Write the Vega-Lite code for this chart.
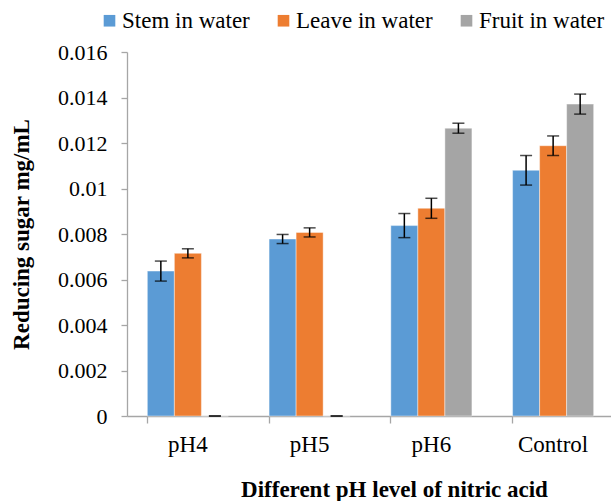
{
  "$schema": "https://vega.github.io/schema/vega-lite/v6.json",
  "width": 487,
  "height": 364,
  "autosize": {"type": "none"},
  "padding": {"left": 127, "top": 52, "right": -3, "bottom": 85},
  "background": "white",
  "config": {
    "view": {"stroke": null},
    "font": "Liberation Serif"
  },
  "data": {
    "values": [
      {"ph": "pH4", "series": "Stem in water", "value": 0.00637, "lo": 0.00593, "hi": 0.00681},
      {"ph": "pH4", "series": "Leave in water", "value": 0.00715, "lo": 0.00695, "hi": 0.00735},
      {"ph": "pH4", "series": "Fruit in water", "value": 0.0, "lo": 0.0, "hi": 0.0},
      {"ph": "pH5", "series": "Stem in water", "value": 0.00778, "lo": 0.00758, "hi": 0.00798},
      {"ph": "pH5", "series": "Leave in water", "value": 0.00807, "lo": 0.00787, "hi": 0.00827},
      {"ph": "pH5", "series": "Fruit in water", "value": 0.0, "lo": 0.0, "hi": 0.0},
      {"ph": "pH6", "series": "Stem in water", "value": 0.00837, "lo": 0.00784, "hi": 0.0089},
      {"ph": "pH6", "series": "Leave in water", "value": 0.00913, "lo": 0.00869, "hi": 0.00957},
      {"ph": "pH6", "series": "Fruit in water", "value": 0.01265, "lo": 0.01243, "hi": 0.01287},
      {"ph": "Control", "series": "Stem in water", "value": 0.0108, "lo": 0.01015, "hi": 0.01145},
      {"ph": "Control", "series": "Leave in water", "value": 0.01188, "lo": 0.01145, "hi": 0.01231},
      {"ph": "Control", "series": "Fruit in water", "value": 0.01371, "lo": 0.01327, "hi": 0.01415}
    ]
  },
  "encoding": {
    "x": {
      "field": "ph", "type": "nominal", "sort": ["pH4", "pH5", "pH6", "Control"],
      "scale": {"paddingInner": 0.334, "paddingOuter": 0.167},
      "axis": {
        "title": "Different pH level of nitric acid", "titleFont": "Liberation Serif", "titleFontSize": 23, "titleFontWeight": "bold",
        "titleColor": "black", "titlePadding": 22, "titleX": 267,
        "labelFont": "Liberation Serif", "labelColor": "black", "labelFontSize": 23, "labelAngle": 0, "labelPadding": 10,
        "domainColor": "#a6a6a6", "domainWidth": 1.3, "tickColor": "#a6a6a6", "tickWidth": 1.3, "tickSize": 7, "bandPosition": 0
      }
    },
    "xOffset": {"field": "series", "type": "nominal", "sort": ["Stem in water", "Leave in water", "Fruit in water"]}
  },
  "layer": [
    {
      "mark": {"type": "bar", "stroke": "white", "strokeWidth": 0.7, "strokeOpacity": 0.6},
      "encoding": {
        "y": {
          "field": "value", "type": "quantitative",
          "scale": {"domain": [0, 0.016]},
          "axis": {
            "title": "Reducing sugar mg/mL", "titleFont": "Liberation Serif", "titleFontSize": 23, "titleFontWeight": "bold",
            "titleColor": "black", "titlePadding": 24,
            "labelFont": "Liberation Serif", "labelColor": "black", "labelFontSize": 22,
            "values": [0, 0.002, 0.004, 0.006, 0.008, 0.01, 0.012, 0.014, 0.016],
            "format": "~g", "grid": false, "labelPadding": 14,
            "domainColor": "#a6a6a6", "domainWidth": 1.3, "tickColor": "#a6a6a6", "tickWidth": 1.3, "tickSize": 6
          }
        },
        "color": {
          "field": "series", "type": "nominal",
          "sort": ["Stem in water", "Leave in water", "Fruit in water"],
          "scale": {"domain": ["Stem in water", "Leave in water", "Fruit in water"], "range": ["#5b9bd5", "#ed7d31", "#a5a5a5"]},
          "legend": {
            "title": null, "orient": "none", "direction": "horizontal", "legendX": -29, "legendY": -43,
            "symbolType": "square", "symbolSize": 135, "symbolStrokeWidth": 0,
            "labelFont": "Liberation Serif", "labelColor": "black", "labelFontSize": 23,
            "columnPadding": 22, "labelOffset": 1
          }
        }
      }
    },
    {
      "mark": {"type": "rule", "color": "black", "strokeWidth": 1.5},
      "encoding": {"y": {"field": "lo", "type": "quantitative"}, "y2": {"field": "hi"}}
    },
    {
      "mark": {"type": "tick", "color": "black", "thickness": 1.5, "size": 12, "orient": "horizontal"},
      "encoding": {"y": {"field": "lo", "type": "quantitative"}}
    },
    {
      "mark": {"type": "tick", "color": "black", "thickness": 1.5, "size": 12, "orient": "horizontal"},
      "encoding": {"y": {"field": "hi", "type": "quantitative"}}
    }
  ]
}
